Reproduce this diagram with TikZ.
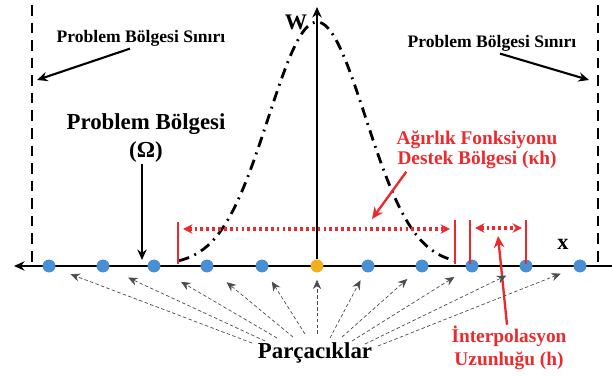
\documentclass[tikz,border=0pt]{standalone}
\usepackage{fontspec}
\setmainfont{Liberation Serif}
\usetikzlibrary{arrows.meta,positioning}
\definecolor{ptCol}{HTML}{4A8FD4}
\definecolor{midCol}{HTML}{F2B01E}
\definecolor{supCol}{HTML}{EC2A2E}
\newcommand{\fs}[1]{\fontsize{#1}{#1}\selectfont}
\tikzset{
  bound/.style={line width=2.5pt, dash pattern=on 9pt off 6pt},        % problem domain boundary
  xaxis/.style={line width=2.3pt, -{Stealth[length=9pt,width=8pt]}},
  part/.style={circle, fill=ptCol, minimum size=11pt, inner sep=0pt},
  ptr/.style={-{Stealth[length=9pt,width=8pt]}, line width=1.8pt},
  rptr/.style={-{Stealth[length=10pt,width=9pt]}, line width=2pt, supCol},
  rbar/.style={line width=2.2pt, supCol},
  kspan/.style={{Stealth[length=8pt,width=8pt]}-{Stealth[length=8pt,width=8pt]},
                line width=2.8pt, supCol, dash pattern=on 2.4pt off 2.6pt}, % support / h span
  feed/.style={-{Stealth[length=8pt,width=7pt]}, densely dashed, gray!60!black, line width=0.6pt},
  wcurve/.style={line width=2.4pt, dash pattern=on 9pt off 5pt on 1.6pt off 5pt},
  lbl/.style={font=\bfseries, align=center, inner sep=1pt},
  rlbl/.style={lbl, text=supCol},
}

\begin{document}
\begin{tikzpicture}[x=0.03cm, y=-0.03cm]
  \useasboundingbox (0,0) rectangle (612,377);
  % boundaries of the domain
  \draw[bound] (32,5) -- (32,266);
  \draw[bound] (598,5) -- (598,266);

  \coordinate (xr) at (612,266);
  \coordinate (xl) at (14,266);
  \draw[xaxis] (xr) -- (xl);

  % kernel
  \draw[wcurve] plot[domain=-138:138, samples=90, smooth]
    ({317+\x},{265-243*exp(-0.5*(\x/48.6)*(\x/48.6))});

  % particles
  \foreach \x/\c [count=\i] in {49/ptCol,103/ptCol,154/ptCol,207/ptCol,262/ptCol,317/midCol,
                                368/ptCol,422/ptCol,472/ptCol,526/ptCol,580/ptCol}
    \node[part, fill=\c] (p\i) at (\x,266) {};

  \coordinate (wtop) at (317,7);
  \draw[xaxis] (p6.north) -- (wtop);
  \node[lbl, font=\bfseries\fs{19}] (wl) at (296,22) {W};
  \node[lbl, font=\bfseries\fs{19}] (xlbl) at (563,244) {x};

  % boundary labels
  \node[lbl, font=\bfseries\fs{15}] (sinL) at (141,38) {Problem Bölgesi Sınırı};
  \node[lbl, font=\bfseries\fs{15}] (sinR) at (492,43) {Problem Bölgesi Sınırı};
  \coordinate (bL) at (37,80);
  \coordinate (bR) at (589,80);
  \draw[ptr] ([xshift=-0.33cm,yshift=-1pt]sinL.south) -- (bL);
  \draw[ptr] ([xshift=0.24cm,yshift=-1pt]sinR.south) -- (bR);

  \node[lbl, font=\bfseries\fs{19.5}] (om) at (146,138) {Problem Bölgesi\\[4pt](Ω)};
  \coordinate (omT) at (142,260);
  \draw[ptr] ([xshift=-0.12cm]om.south) -- (omT);

  % support region and h
  \coordinate (kl) at (178,222);
  \coordinate (kr) at (455,220);
  \coordinate (hl) at (470,220);
  \coordinate (hr) at (526,220);
  \foreach \b in {kl,kr,hl,hr}{\draw[rbar] (\b) -- (\b|-0,264);}
  \draw[kspan] ([xshift=0.15cm,yshift=-0.21cm]kl) -- ([xshift=-0.15cm,yshift=-0.27cm]kr);
  \draw[kspan] ([xshift=0.15cm,yshift=-0.24cm]hl) -- ([xshift=-0.12cm,yshift=-0.24cm]hr);

  \node[rlbl, font=\bfseries\fs{16.5}] (kt) at (477,150) {Ağırlık Fonksiyonu\\[1pt]Destek Bölgesi (κh)};
  \coordinate (kT) at (372,219);
  \draw[rptr] ([xshift=0.33cm,yshift=-1pt]kt.south west) -- (kT);

  \node[rlbl, font=\bfseries\fs{16.5}] (ht) at (509,348) {İnterpolasyon\\[3pt]Uzunluğu (h)};
  \coordinate (hT) at (498,236);
  \draw[rptr] ([xshift=-0.06cm]ht.north) -- (hT);

  % particles label
  \node[lbl, font=\bfseries\fs{19.5}] (pc) at (315,353) {Parçacıklar};
  \foreach \i/\sx/\sy/\sh in {1/-63/-10/14pt, 2/-50/-12/18pt, 3/-38/-15/21pt, 4/-22/-16/16pt,
                              5/-10/-19/10pt, 6/2/-19/6pt, 7/15/-15/8pt, 8/27/-16/11pt,
                              9/37/-12/12pt, 10/50/-9/13pt, 11/63/-7/12pt}
    \draw[feed, shorten >=\sh] ([shift={(\sx,\sy)}]pc.center) -- (p\i);
\end{tikzpicture}
\end{document}
